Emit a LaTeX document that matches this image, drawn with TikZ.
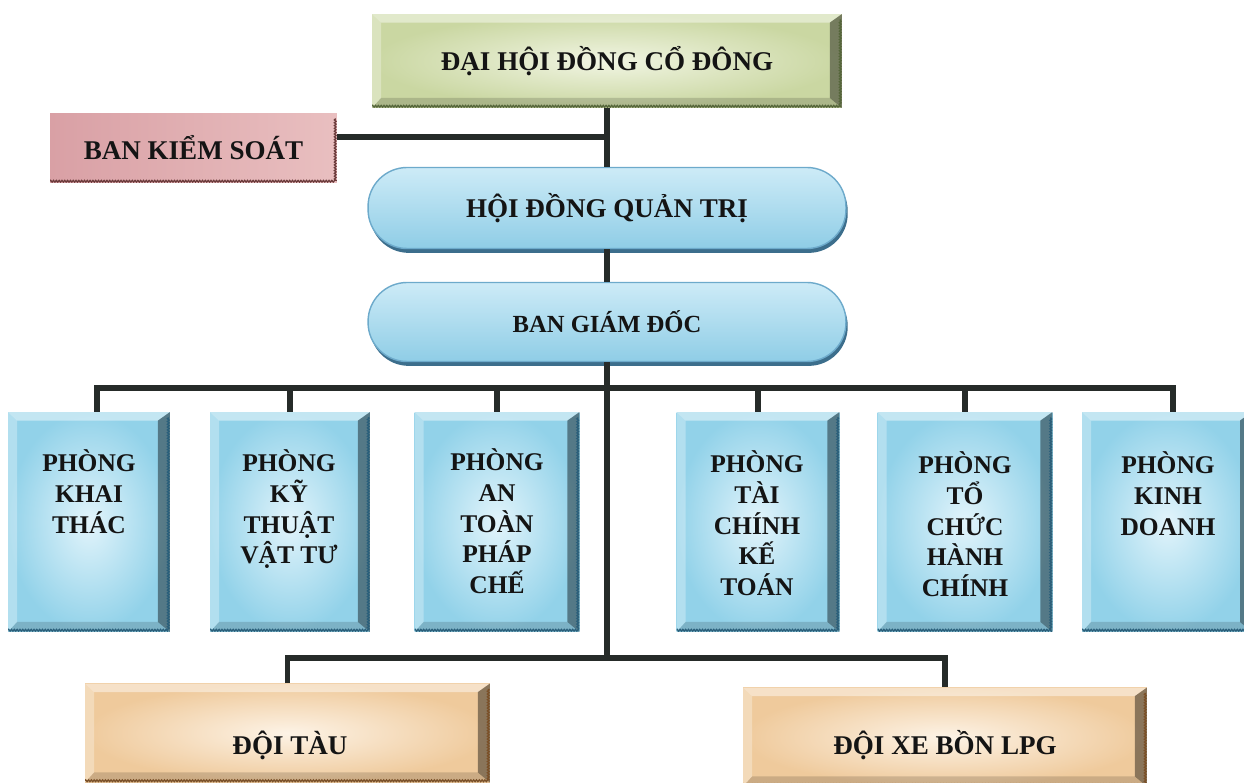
\documentclass[tikz,border=0pt]{standalone}
\usepackage{fontspec}
\setmainfont{Liberation Serif}
\usetikzlibrary{shadows,decorations.pathmorphing}

\definecolor{lineC}{HTML}{262B29}
\definecolor{txtC}{HTML}{141414}
\definecolor{grIn}{HTML}{F1F5E3}
\definecolor{grOut}{HTML}{CAD7A2}
\definecolor{grEdge}{HTML}{55663A}
\definecolor{pkL}{HTML}{D9A0A5}
\definecolor{pkM}{HTML}{F8EAEA}
\definecolor{pkR}{HTML}{E9BFC0}
\definecolor{pkEdge}{HTML}{6A3A3A}
\definecolor{blIn}{HTML}{E2F4FB}
\definecolor{blOut}{HTML}{92D2E9}
\definecolor{blEdge}{HTML}{2A5F7A}
\definecolor{plTop}{HTML}{CDEBF7}
\definecolor{plBot}{HTML}{8FCDE6}
\definecolor{plDraw}{HTML}{6DAACB}
\definecolor{plShadow}{HTML}{3C6E8C}
\definecolor{orIn}{HTML}{FDF3E6}
\definecolor{orOut}{HTML}{EFCA9C}
\definecolor{orEdge}{HTML}{7A5028}

\tikzset{
  conn/.style={draw=lineC, line width=3.2pt, line join=miter},
  boxtext/.style={text=txtC, font=\bfseries\fontsize{15.4}{18}\selectfont},
  depttext/.style={text=txtC, align=center, inner sep=0pt, anchor=north,
    font=\bfseries\fontsize{14.5}{17.6}\selectfont},
  bevel/.style={path picture={
    \fill[white,opacity=0.45] (path picture bounding box.north west) -- (path picture bounding box.north east)
      -- ([shift={(-0.24cm,-0.17cm)}]path picture bounding box.north east)
      -- ([shift={(0.18cm,-0.17cm)}]path picture bounding box.north west) -- cycle;
    \fill[white,opacity=0.3] (path picture bounding box.north west)
      -- ([shift={(0.18cm,-0.17cm)}]path picture bounding box.north west)
      -- ([shift={(0.18cm,0.2cm)}]path picture bounding box.south west)
      -- (path picture bounding box.south west) -- cycle;
    \fill[black,opacity=0.42] (path picture bounding box.north east)
      -- ([shift={(-0.24cm,-0.17cm)}]path picture bounding box.north east)
      -- ([shift={(-0.24cm,0.2cm)}]path picture bounding box.south east)
      -- (path picture bounding box.south east) -- cycle;
    \fill[black,opacity=0.15] (path picture bounding box.south west)
      -- ([shift={(0.18cm,0.2cm)}]path picture bounding box.south west)
      -- ([shift={(-0.24cm,0.2cm)}]path picture bounding box.south east)
      -- (path picture bounding box.south east) -- cycle;
    \draw[#1, line width=0.7pt, decorate, decoration={zigzag, amplitude=0.5pt, segment length=1.6pt}]
      ([shift={(0pt,1pt)}]path picture bounding box.south west)
      -- ([shift={(-1pt,1pt)}]path picture bounding box.south east)
      -- ([shift={(-1pt,-3pt)}]path picture bounding box.north east);
  }},
  greenbox/.style={rectangle, inner color=grIn, outer color=grOut, bevel=grEdge},
  bluebox/.style={rectangle, inner color=blIn, outer color=blOut, bevel=blEdge},
  orangebox/.style={rectangle, inner color=orIn, outer color=orOut, bevel=orEdge},
  pinkbox/.style={rectangle, left color=pkL, middle color=pkM, right color=pkR,
    path picture={
      \draw[pkEdge, line width=0.7pt, decorate, decoration={zigzag, amplitude=0.5pt, segment length=1.6pt}]
        ([shift={(0pt,1pt)}]path picture bounding box.south west)
        -- ([shift={(-1pt,1pt)}]path picture bounding box.south east)
        -- ([shift={(-1pt,-3pt)}]path picture bounding box.north east);
    }},
  pill/.style={rectangle, rounded corners=0.78cm, top color=plTop, bottom color=plBot,
    draw=plDraw, line width=0.8pt,
    drop shadow={shadow xshift=1pt, shadow yshift=-2.5pt, fill=plShadow, opacity=1}},
}

\begin{document}
\begin{tikzpicture}[x=0.02cm, y=-0.02cm]
\useasboundingbox (0,0) rectangle (1244,783);

% top level
\node[greenbox, minimum width=9.4cm, minimum height=1.88cm, boxtext] (dhdcd) at (607,61) {ĐẠI HỘI ĐỒNG CỔ ĐÔNG};
\node[pinkbox, minimum width=5.74cm, minimum height=1.4cm, boxtext] (bks) at (193.5,148) {BAN KIỂM SOÁT};
\node[pill, minimum width=9.56cm, minimum height=1.62cm, boxtext] (hdqt) at (607,208) {HỘI ĐỒNG QUẢN TRỊ};
\node[pill, minimum width=9.56cm, minimum height=1.58cm, boxtext, font=\bfseries\fontsize{14}{17}\selectfont] (bgd) at (607,322) {BAN GIÁM ĐỐC};

% departments
\node[bluebox, minimum width=3.24cm, minimum height=4.4cm] (d1) at (89,522) {};
\node[bluebox, minimum width=3.2cm, minimum height=4.4cm] (d2) at (290,522) {};
\node[bluebox, minimum width=3.3cm, minimum height=4.4cm] (d3) at (497,522) {};
\node[bluebox, minimum width=3.26cm, minimum height=4.4cm] (d4) at (758,522) {};
\node[bluebox, minimum width=3.5cm, minimum height=4.4cm] (d5) at (965,522) {};
\node[bluebox, minimum width=3.4cm, minimum height=4.4cm] (d6) at (1167,522) {};

\node[depttext] (t1) at (89,449) {PHÒNG\\KHAI\\THÁC};
\node[depttext] (t2) at (289,449) {PHÒNG\\KỸ\\THUẬT\\VẬT TƯ};
\node[depttext] (t3) at (497,448) {PHÒNG\\AN\\TOÀN\\PHÁP\\CHẾ};
\node[depttext] (t4) at (757,450) {PHÒNG\\TÀI\\CHÍNH\\KẾ\\TOÁN};
\node[depttext] (t5) at (965,451) {PHÒNG\\TỔ\\CHỨC\\HÀNH\\CHÍNH};
\node[depttext] (t6) at (1168,451) {PHÒNG\\KINH\\DOANH};

% bottom teams
\node[orangebox, minimum width=8.1cm, minimum height=1.98cm] (doitau) at (287.5,733) {};
\node[orangebox, minimum width=8.08cm, minimum height=1.98cm] (doixe) at (945,737) {};
\node[boxtext] (tdt) at (290,745) {ĐỘI TÀU};
\node[boxtext] (tdx) at (945,745) {ĐỘI XE BỒN LPG};

% connectors
\coordinate (j1) at (607,137);
\coordinate (bus) at (607,388);
\coordinate (bus2) at (607,658);
\draw[conn] (dhdcd.south) -- (hdqt.north);
\draw[conn] (bks.east |- j1) -- (j1);
\draw[conn] (hdqt.south) -- (bgd.north);
\draw[conn] (bgd.south) -- (bus2);
\draw[conn] ([xshift=0.16cm]d1.north) |- (bus) -| ([xshift=0.12cm]d6.north);
\foreach \d in {d2,d3,d4,d5} { \draw[conn] (\d.north) -- (\d.north |- bus); }
\draw[conn] (doitau.north) |- (bus2) -| (doixe.north);
\end{tikzpicture}
\end{document}
